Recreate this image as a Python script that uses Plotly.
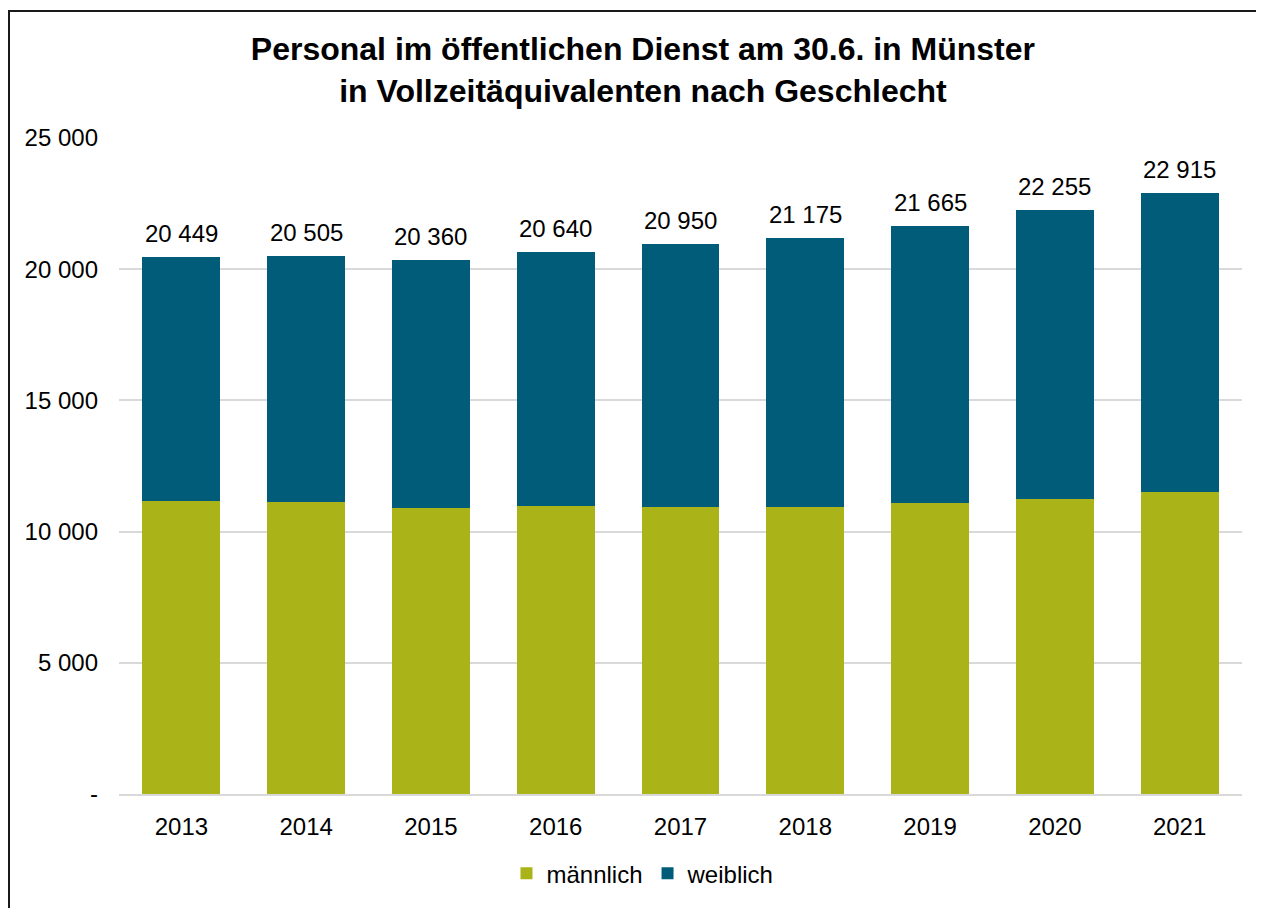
import plotly.graph_objects as go

years = ["2013", "2014", "2015", "2016", "2017", "2018", "2019", "2020", "2021"]
maennlich = [11175, 11137, 10909, 10985, 10947, 10935, 11087, 11224, 11517]
gesamt = [20449, 20505, 20360, 20640, 20950, 21175, 21665, 22255, 22915]
weiblich = [g - m for g, m in zip(gesamt, maennlich)]
gesamt_labels = ["20 449", "20 505", "20 360", "20 640", "20 950", "21 175", "21 665", "22 255", "22 915"]
ytick_vals = [0, 5000, 10000, 15000, 20000, 25000]
ytick_text = ["-", "5 000", "10 000", "15 000", "20 000", "25 000"]

FONT = "Liberation Sans, Arial, sans-serif"
C_M = "#AAB418"
C_W = "#015C79"
FS = 24

fig = go.Figure()
fig.add_trace(go.Bar(x=years, y=maennlich, name="männlich", marker=dict(color=C_M, line=dict(width=0)),
                     hoverinfo="y"))
fig.add_trace(go.Bar(x=years, y=weiblich, name="weiblich", marker=dict(color=C_W, line=dict(width=0)),
                     hoverinfo="y"))

# total labels above each stack (x given as category index)
for i, (tot, lab) in enumerate(zip(gesamt, gesamt_labels)):
    fig.add_annotation(x=i, y=tot, xref="x", yref="y", text=lab, showarrow=False,
                       yanchor="bottom", yshift=8,
                       font=dict(family=FONT, size=FS, color="#000000"))

fig.update_layout(
    width=1256, height=900,
    barmode="stack", bargap=0.375,
    paper_bgcolor="white", plot_bgcolor="white",
    margin=dict(l=111, r=22, t=130, b=112),
    font=dict(family=FONT, size=FS, color="#000000"),
    title=dict(text="<b>Personal im öffentlichen Dienst am 30.6. in Münster<br>in Vollzeitäquivalenten nach Geschlecht</b>",
               x=0.5055, xref="container", xanchor="center",
               y=1 - 52 / 900, yref="container", yanchor="middle",
               font=dict(family=FONT, size=32, color="#000000")),
    legend=dict(orientation="h", x=0.4666, xanchor="center", y=-0.1216, yanchor="middle",
                font=dict(family=FONT, size=FS), itemwidth=30, traceorder="normal"),
    showlegend=True,
)
fig.update_xaxes(type="category", categoryorder="array", categoryarray=years,
                 showgrid=False, showline=True, linecolor="#D9D9D9", linewidth=2,
                 ticks="", ticklabelstandoff=10, tickfont=dict(size=FS))
fig.update_yaxes(range=[0, 25000], tickvals=ytick_vals, ticktext=ytick_text,
                 showgrid=True, gridcolor="#D9D9D9", gridwidth=1.5, zeroline=False,
                 showline=False, ticks="", ticklabelstandoff=20, tickfont=dict(size=FS))

# outer chart frame (only top and left edges are visible in the reference)
frame = dict(color="#1a1a1a", width=2)
fig.add_shape(type="line", xref="paper", yref="paper", xsizemode="pixel", ysizemode="pixel",
              xanchor=0, yanchor=1, x0=-110, x1=2000, y0=127, y1=127, line=frame, layer="above")
fig.add_shape(type="line", xref="paper", yref="paper", xsizemode="pixel", ysizemode="pixel",
              xanchor=0, yanchor=1, x0=-110, x1=-110, y0=128, y1=-2000, line=frame, layer="above")

fig.write_html("out.html")
